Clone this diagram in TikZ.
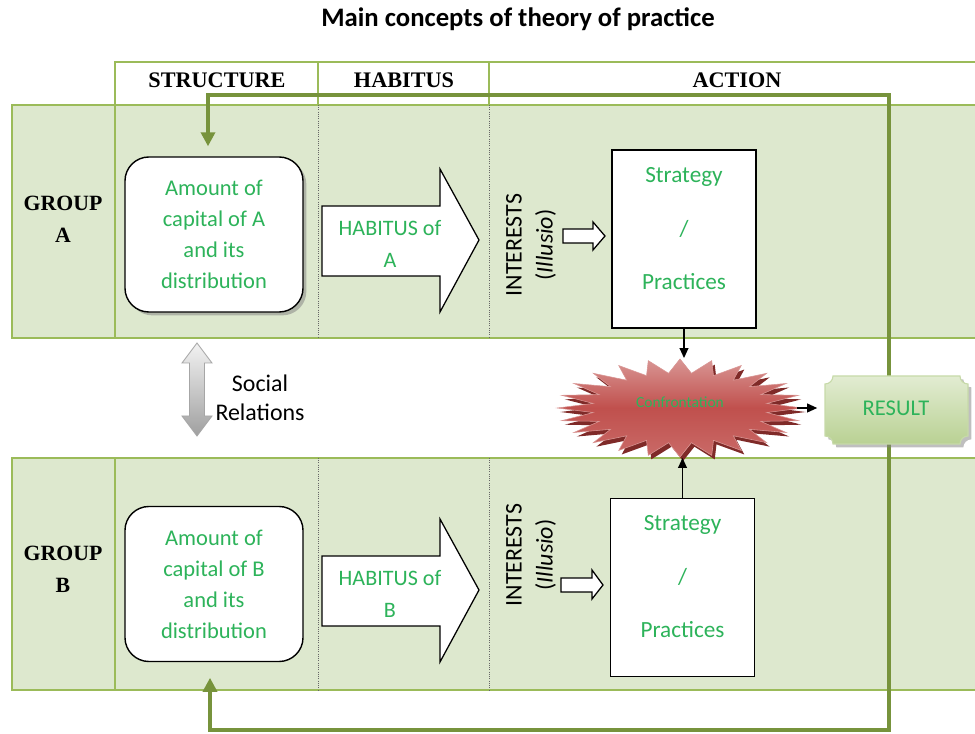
\documentclass[tikz,border=0pt]{standalone}
\usepackage{fontspec}
\setmainfont{Carlito}
\newfontfamily\headfont{Liberation Serif}
\usetikzlibrary{arrows.meta,shapes.geometric,shadows}
\definecolor{bandfill}{HTML}{DDE8CE}
\definecolor{bandline}{HTML}{9BBB59}
\definecolor{loopgreen}{HTML}{77933C}
\definecolor{textgreen}{HTML}{2DB35A}
\definecolor{starred}{HTML}{C0504D}
\definecolor{starlight}{HTML}{D99694}
\definecolor{stardark}{HTML}{7F2A28}
\definecolor{plaquelight}{HTML}{E2ECD2}
\definecolor{plaquedark}{HTML}{B9D193}
\begin{document}
\begin{tikzpicture}[x=0.025cm, y=-0.025cm,
  band/.style={draw=bandline, fill=bandfill, line width=1.5pt},
  head/.style={font=\headfont\bfseries\fontsize{15.8}{22}\selectfont},
  group/.style={align=center, font=\headfont\bfseries\fontsize{15.5}{22.7}\selectfont},
  capital/.style={draw, line width=1pt, rounded corners=0.6cm, fill=white, minimum width=4.45cm, minimum height=3.875cm, align=center, text=textgreen, font=\fontsize{16}{22}\selectfont},
  blockarrow/.style={draw, fill=white, line width=0.9pt},
  habtext/.style={align=center, text=textgreen, font=\fontsize{15.7}{22.7}\selectfont},
  interest/.style={rotate=90, align=center, font=\fontsize{17}{22}\selectfont},
  strategy/.style={draw, line width=1pt, fill=white, minimum width=3.6cm, minimum height=4.45cm},
  strattext/.style={align=center, text=textgreen, font=\fontsize{16.5}{38}\selectfont},
  burst/.style={star, star points=24, star point ratio=1.4, minimum size=2.45cm, inner sep=0pt, xscale=2.5},
  conn/.style={-{Triangle[width=0.22cm,length=0.25cm]}, line width=1pt},
  feedback/.style={draw=loopgreen, line width=2.4pt, {Triangle[width=0.35cm,length=0.35cm]}-{Triangle[width=0.35cm,length=0.35cm]}}
]
\useasboundingbox (0,0) rectangle (975,734);
\node[font=\bfseries\fontsize{19}{22}\selectfont] (title) at (518,19) {Main concepts of theory of practice};

% header row
\draw[bandline, line width=1.2pt] (115,105) -- (115,62) -- (985,62);
\draw[bandline, line width=1.2pt] (318,62) -- (318,105) (489,62) -- (489,105);
\node[head] (structure) at (217,80) {STRUCTURE};
\node[head] (habitus) at (404,80) {HABITUS};
\node[head] (action) at (737,80) {ACTION};

% group bands
\draw[band] (12,105) rectangle (985,338);
\draw[band] (12,458) rectangle (985,690);
\draw[bandline, line width=1pt] (115,105) -- (115,338) (115,458) -- (115,690);
\draw[densely dotted, black!60, line width=0.6pt] (318,105) -- (318,338) (489,105) -- (489,338);
\draw[densely dotted, black!60, line width=0.6pt] (318,458) -- (318,690) (489,458) -- (489,690);

\node[group] (groupA) at (63,219) {GROUP\\A};
\node[group] (groupB) at (63,569) {GROUP\\B};

\node[capital, drop shadow] (capA) at (214,234.5) {Amount of\\capital of A\\and its\\distribution};
\node[capital] (capB) at (214,584) {Amount of\\capital of B\\and its\\distribution};

\draw[blockarrow] (322,206) -- (440,206) -- (440,169) -- (479,240) -- (440,312) -- (440,276) -- (322,276) -- cycle;
\draw[blockarrow] (322,556) -- (440,556) -- (440,519) -- (479,590) -- (440,662) -- (440,626) -- (322,626) -- cycle;
\node[habtext] (habA) at (390,244) {HABITUS of\\A};
\node[habtext] (habB) at (390,594) {HABITUS of\\B};

\node[interest] (intA) at (531,245) {INTERESTS\\(\textit{Illusio})};
\node[interest] (intB) at (531,555) {INTERESTS\\(\textit{Illusio})};
\draw[blockarrow] (563,229) -- (593,229) -- (593,222) -- (605,236) -- (593,250) -- (593,243) -- (563,243) -- cycle;
\draw[blockarrow] (561,578) -- (592,578) -- (592,570) -- (603,585) -- (592,599) -- (592,592) -- (561,592) -- cycle;

\node[strategy] (stratA) at (684,239) {};
\node[strategy] (stratB) at (682.5,587.5) {};
\node[strattext] at ([yshift=0.26cm]stratA.center) {Strategy\\/\\Practices};
\node[strattext] at ([yshift=0.27cm]stratB.center) {Strategy\\/\\Practices};

% feedback loop
\coordinate (loopNE) at (889,95);
\coordinate (loopSE) at (889,730);
\draw[feedback] ([xshift=-0.15cm,yshift=0.25cm]capA.north) |- (loopNE) -- (loopSE) -| ([xshift=-0.1cm,yshift=-0.39cm]capB.south);

% social relations
\shade[top color=gray!10, bottom color=gray!75, draw=gray!70, line width=0.6pt] (197,343) -- (212,363) -- (204.5,363) -- (204.5,416) -- (212,416) -- (197,436) -- (182,416) -- (189.5,416) -- (189.5,363) -- (182,363) -- cycle;
\node[align=center, font=\fontsize{17}{20.5}\selectfont] (social) at (260,398) {Social\\Relations};

% confrontation and result
\node[burst, fill=stardark] at (683,412) {};
\node[burst, draw=starlight, top color=starlight, bottom color=starred!85!white, middle color=starred] (confront) at (680,408) {};
\node[text=textgreen, font=\fontsize{11}{13}\selectfont] (conftext) at (680,402) {Confrontation};

\draw[drop shadow, draw=plaquedark!80, line width=0.8pt, top color=plaquelight, bottom color=plaquedark] (833,376) -- (960,376) .. controls (960,380.4) and (963.6,384) .. (968,384) -- (968,436) .. controls (963.6,436) and (960,439.6) .. (960,444) -- (833,444) .. controls (833,439.6) and (829.4,436) .. (825,436) -- (825,384) .. controls (829.4,384) and (833,380.4) .. (833,376) -- cycle;
\node[minimum width=3.575cm, minimum height=1.7cm, text=textgreen, font=\fontsize{16}{20}\selectfont] (result) at (896,408) {RESULT};

\draw[conn] (stratA.south) -- (stratA.south |- confront.north);
\draw[conn] (stratB.north) -- (stratB.north |- confront.south);
\draw[conn, shorten >=0.175cm] ([xshift=-0.2cm]confront.east) -- (confront.east -| result.west);
\end{tikzpicture}
\end{document}
